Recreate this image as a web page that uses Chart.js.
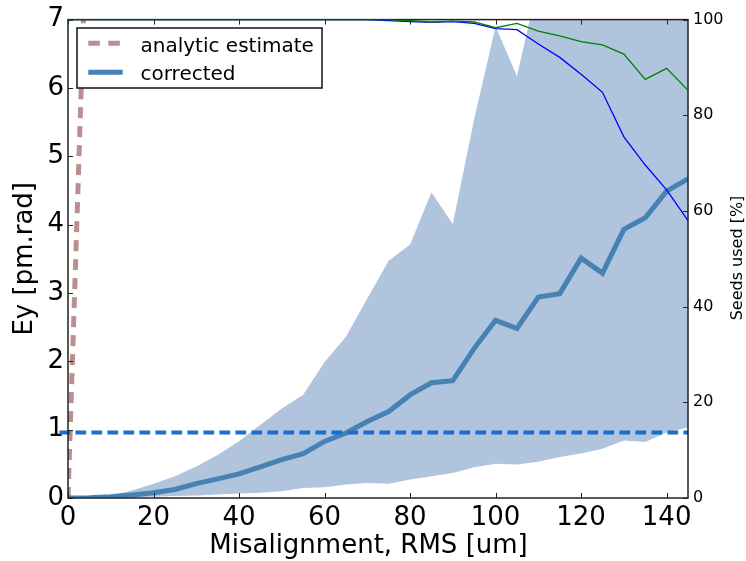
<!DOCTYPE html>
<html>
<head>
<meta charset="utf-8">
<title>Ey vs misalignment</title>
<script src="https://cdn.jsdelivr.net/npm/chart.js@4/dist/chart.umd.min.js"></script>
<style>
  html, body { margin: 0; padding: 0; background: #fff; }
  #wrap { width: 746px; height: 561px; }
</style>
</head>
<body>
<div id="wrap"><canvas id="ey-chart" width="746" height="561"></canvas></div>
<script>
/* Emittance (Ey) against RMS misalignment, with the spread band and the
 * share of seeds kept on a second axis. Plain Chart.js, no build step. */
(function () {
  "use strict";

  // --- data ---
  var misalign = [0, 5, 10, 15, 20, 25, 30, 35, 40, 45, 50, 55, 60, 65, 70,
    75, 80, 85, 90, 95, 100, 105, 110, 115, 120, 125, 130, 135, 140, 145];

  var correctedEy = [0, 0.005, 0.02, 0.045, 0.076, 0.124, 0.211, 0.28, 0.352, 0.454,
    0.561, 0.648, 0.828, 0.95, 1.119, 1.265, 1.508, 1.687, 1.716, 2.19,
    2.60, 2.48, 2.94, 2.99, 3.51, 3.29, 3.93, 4.10, 4.49, 4.67];

  var upperEy = [0, 0.01, 0.04, 0.11, 0.21, 0.32, 0.46, 0.63, 0.83, 1.07,
    1.31, 1.51, 1.99, 2.36, 2.92, 3.47, 3.71, 4.47, 4.01, 5.55,
    6.90, 6.17, 7.55, 8.1, 8.6, 9.4, 9.9, 10.8, 11.5, 12.3];

  var lowerEy = [0, 0, 0.005, 0.01, 0.02, 0.03, 0.035, 0.05, 0.066, 0.075,
    0.10, 0.148, 0.158, 0.197, 0.22, 0.21, 0.27, 0.32, 0.367, 0.45,
    0.50, 0.49, 0.53, 0.60, 0.65, 0.72, 0.84, 0.82, 0.96, 1.03];

  var seedsAll = [100, 100, 100, 100, 100, 100, 100, 100, 100, 100,
    100, 100, 100, 100, 100, 100, 99.8, 99.5, 99.7, 99.5,
    98.3, 99.2, 97.6, 96.6, 95.4, 94.7, 92.8, 87.5, 89.8, 85.2];

  var seedsCorrected = [100, 100, 100, 100, 100, 100, 100, 100, 100, 100,
    100, 100, 100, 100, 100, 99.8, 99.6, 99.4, 99.6, 99.2,
    98.1, 97.9, 94.9, 92.1, 88.6, 84.8, 75.5, 69.6, 64.4, 58.0];

  var analyticX = [0, 5, 10];
  var analyticEy = [0, 9.7, 38.8];

  var thresholdX = [-2, 145];
  var thresholdEy = [0.96, 0.96];

  var xTicks = [0, 20, 40, 60, 80, 100, 120, 140];
  var yTicks = [0, 1, 2, 3, 4, 5, 6, 7];
  var y2Ticks = [0, 20, 40, 60, 80, 100];

  var FONT = "'DejaVu Sans', 'Liberation Sans', sans-serif";
  var THRESHOLD_INDEX = 3;

  function points(xs, ys) {
    return xs.map(function (x, i) {
      return { x: x, y: ys[i] };
    });
  }

  function fixedTicks(values) {
    return function (scale) {
      scale.ticks = values.map(function (v) {
        return { value: v };
      });
    };
  }

  // frame and inward tick marks, drawn between the Ey series and the seed curves
  var framePlugin = {
    id: "frame",
    afterDatasetDraw: function (chart, args) {
      if (args.index !== THRESHOLD_INDEX) return;
      var ctx = chart.ctx;
      var a = chart.chartArea;
      var sx = chart.scales.x, sy = chart.scales.y, sy2 = chart.scales.y2;
      ctx.save();
      ctx.strokeStyle = "#222";
      ctx.lineWidth = 1;
      ctx.beginPath();
      xTicks.forEach(function (v) {
        var px = Math.round(sx.getPixelForValue(v)) + 0.5;
        ctx.moveTo(px, a.bottom); ctx.lineTo(px, a.bottom - 5);
        ctx.moveTo(px, a.top); ctx.lineTo(px, a.top + 5);
      });
      yTicks.forEach(function (v) {
        var py = Math.round(sy.getPixelForValue(v)) + 0.5;
        ctx.moveTo(a.left, py); ctx.lineTo(a.left + 5, py);
      });
      y2Ticks.forEach(function (v) {
        var py = Math.round(sy2.getPixelForValue(v)) + 0.5;
        ctx.moveTo(a.right, py); ctx.lineTo(a.right - 5, py);
      });
      ctx.stroke();
      ctx.lineWidth = 1.5;
      ctx.strokeRect(a.left, a.top, a.right - a.left, a.bottom - a.top);
      ctx.restore();
    },
    afterDraw: function (chart) {
      var ctx = chart.ctx;
      ctx.save();
      ctx.fillStyle = "#000";
      ctx.textAlign = "center";
      ctx.textBaseline = "alphabetic";
      // x axis title
      ctx.font = "26px " + FONT;
      ctx.fillText("Misalignment, RMS [um]", 368.5, 553);
      // right axis title reads bottom to top
      ctx.translate(741.5, 258);
      ctx.rotate(-Math.PI / 2);
      ctx.font = "16px " + FONT;
      ctx.fillText("Seeds used [%]", 0, 0);
      ctx.restore();

      // legend box
      ctx.save();
      ctx.fillStyle = "#fff";
      ctx.fillRect(77, 28, 245, 60);
      ctx.strokeStyle = "#111";
      ctx.lineWidth = 1.5;
      ctx.strokeRect(77, 28, 245, 60);

      ctx.lineWidth = 5;
      ctx.strokeStyle = "#BC8F8F";
      ctx.setLineDash([11.5, 8.5]);
      ctx.beginPath();
      ctx.moveTo(88.3, 43.3); ctx.lineTo(122.7, 43.3);
      ctx.stroke();
      ctx.setLineDash([]);
      ctx.strokeStyle = "#4682B4";
      ctx.beginPath();
      ctx.moveTo(88.3, 72.3); ctx.lineTo(122.7, 72.3);
      ctx.stroke();

      ctx.fillStyle = "#000";
      ctx.font = "20px " + FONT;
      ctx.textAlign = "left";
      ctx.textBaseline = "alphabetic";
      ctx.fillText("analytic estimate", 140.5, 51.7);
      ctx.fillText("corrected", 140.5, 80);
      ctx.restore();
    }
  };

  Chart.defaults.font.family = FONT;
  Chart.defaults.color = "#000";

  new Chart(document.getElementById("ey-chart"), {
    type: "line",
    data: {
      datasets: [
        {
          label: "all seeds",
          data: points(misalign, seedsAll),
          yAxisID: "y2",
          borderColor: "#008000",
          borderWidth: 1.3,
          order: 1
        },
        {
          label: "seeds corrected",
          data: points(misalign, seedsCorrected),
          yAxisID: "y2",
          borderColor: "#0000FF",
          borderWidth: 1.3,
          order: 2
        },
        {
          label: "analytic estimate",
          data: points(analyticX, analyticEy),
          yAxisID: "y",
          borderColor: "#BC8F8F",
          borderWidth: 5,
          borderDash: [11, 8],
          order: 5
        },
        {
          label: "threshold",
          data: points(thresholdX, thresholdEy),
          yAxisID: "y",
          borderColor: "#1470C8",
          borderWidth: 4,
          borderDash: [10.7, 5.3],
          clip: { left: 12, top: 0, right: 0, bottom: 0 },
          order: 3
        },
        {
          label: "corrected",
          data: points(misalign, correctedEy),
          yAxisID: "y",
          borderColor: "#4682B4",
          borderWidth: 5,
          order: 4
        },
        {
          label: "upper",
          data: points(misalign, upperEy),
          yAxisID: "y",
          borderWidth: 0,
          borderColor: "rgba(0,0,0,0)",
          backgroundColor: "#B0C4DE",
          fill: "+1",
          order: 6
        },
        {
          label: "lower",
          data: points(misalign, lowerEy),
          yAxisID: "y",
          borderWidth: 0,
          borderColor: "rgba(0,0,0,0)",
          order: 7
        }
      ]
    },
    options: {
      responsive: false,
      animation: false,
      devicePixelRatio: 1,
      elements: {
        point: { radius: 0, hoverRadius: 0 },
        line: { tension: 0, borderCapStyle: "butt", borderJoinStyle: "miter" }
      },
      layout: { padding: { top: 18, left: 0, right: 0, bottom: 0 } },
      plugins: {
        legend: { display: false },
        tooltip: { enabled: false }
      },
      events: [],
      scales: {
        x: {
          type: "linear",
          min: 0,
          max: 145,
          afterBuildTicks: fixedTicks(xTicks),
          afterFit: function (s) { s.height = 63; },
          grid: { display: false, drawTicks: false },
          border: { display: false },
          ticks: { font: { size: 26 }, color: "#000", padding: 5, maxRotation: 0, minRotation: 0, autoSkip: false }
        },
        y: {
          type: "linear",
          position: "left",
          min: 0,
          max: 7,
          afterBuildTicks: fixedTicks(yTicks),
          afterFit: function (s) { s.width = 68; },
          grid: { display: false, drawTicks: false },
          border: { display: false },
          ticks: { font: { size: 26 }, color: "#000", padding: 4, autoSkip: false },
          title: { display: true, text: "Ey [pm.rad]", font: { size: 26 }, color: "#000", padding: { top: 10, bottom: 0 } }
        },
        y2: {
          type: "linear",
          position: "right",
          min: 0,
          max: 100,
          afterBuildTicks: fixedTicks(y2Ticks),
          afterFit: function (s) { s.width = 58; },
          grid: { display: false, drawTicks: false },
          border: { display: false },
          ticks: { font: { size: 16 }, color: "#000", padding: 5, autoSkip: false }
        }
      }
    },
    plugins: [framePlugin]
  });
})();
</script>
</body>
</html>
